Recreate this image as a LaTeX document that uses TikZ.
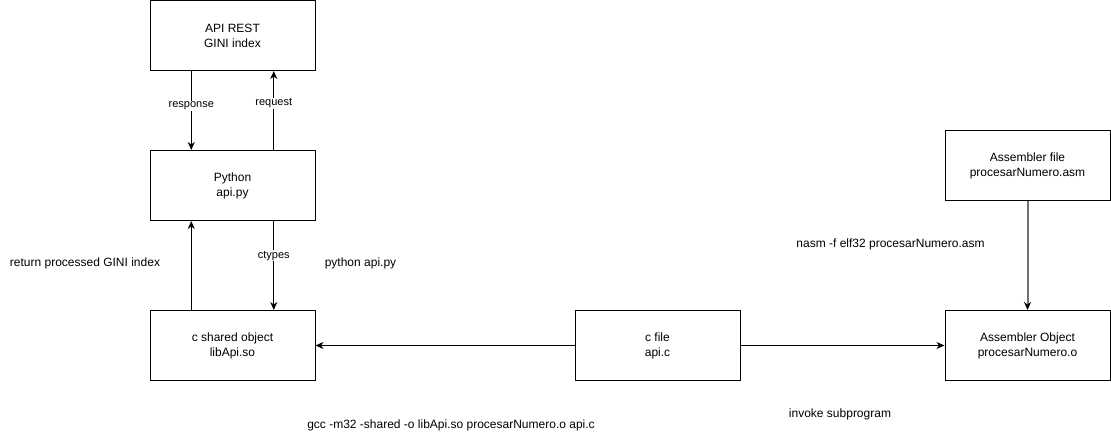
\documentclass[tikz,border=0pt]{standalone}
\usepackage{fontspec}
\setmainfont{Liberation Sans}
\usetikzlibrary{arrows.meta}

\begin{document}
\begin{tikzpicture}[x=1pt,y=-1pt,>={Stealth[length=8pt,width=7pt,inset=2.5pt]},
        grayline/.style={draw=gray!90!black,line width=2pt,arrows={-Stealth[length=8pt,width=7pt,inset=2.5pt,color=black]}}]
        \useasboundingbox (0,0) rectangle (1111,441);

        \begin{scope}[every node/.style={rectangle,draw,line width=1pt,minimum width=165pt,minimum height=70pt,align=center,font=\fontsize{12}{15}\selectfont}]
          \node (api)  at (232.5,35.5)  {API REST\\GINI index};
          \node (py)   at (232.5,185.5) {Python\\api.py};
          \node (so)   at (232.5,345.5) {c shared object\\libApi.so};
          \node (cf)   at (657.5,345.5) {c file\\api.c};
          \node (asmo) at (1027.5,345.5) {Assembler Object\\procesarNumero.o};
          \node (asmf) at (1027.5,165.5) {Assembler file\\procesarNumero.asm};
        \end{scope}

        \begin{scope}[every node/.style={fill=white,inner sep=1pt,font=\fontsize{11}{13}\selectfont}]

          \begin{scope}[every edge/.style={draw,->,line width=1pt}]
            \path ([xshift=-41.25pt]api.south) edge node[pos=.44] {response} ([xshift=-41.25pt]py.north);
            \path ([xshift=41.25pt]py.north)   edge node[pos=.59] {request}  ([xshift=41.25pt]api.south);
            \path ([xshift=41.25pt]py.south)   edge node[pos=.39] {ctypes} ([xshift=41.25pt]so.north);
            \path ([xshift=-41.25pt]so.north)  edge ([xshift=-41.25pt]py.south);
            \path (cf)   edge (so);
            \path (cf)   edge (asmo);
            \path (asmf) edge[grayline] (asmo);
          \end{scope}
        \end{scope}

        \begin{scope}[every node/.style={font=\fontsize{12}{15}\selectfont}]
          \node (ret)  at (85,263)  {return processed GINI index};
          \node (run)  at (360.5,263) {python api.py};
          \node (nasm) at (890.5,244) {nasm -f elf32 procesarNumero.asm};
          \node (gcc)  at (451,425) {gcc -m32 -shared -o libApi.so procesarNumero.o api.c};
          \node (inv)  at (840,414) {invoke subprogram};
        \end{scope}

      \end{tikzpicture}
\end{document}
